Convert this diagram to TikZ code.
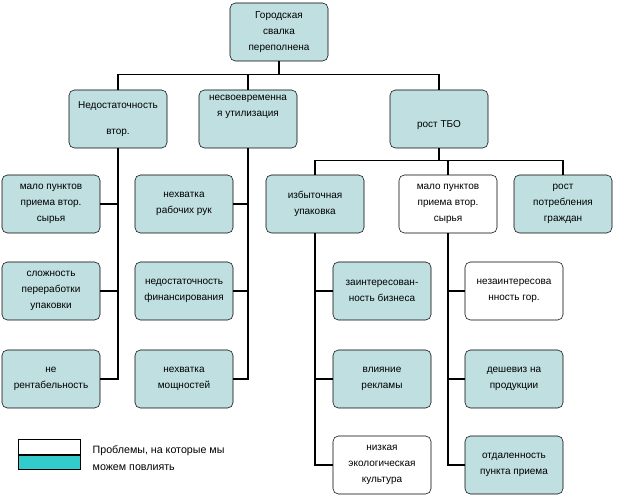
\documentclass[tikz,border=0pt]{standalone}
\usepackage{fontspec}
\setmainfont{Liberation Sans}
\usetikzlibrary{positioning}
\begin{document}
\begin{tikzpicture}[x=0.75pt,y=-0.75pt,
  box/.style={draw, rounded corners=4pt, fill=boxfill, minimum width=73.5pt,
    minimum height=43.5pt, align=center, inner sep=1pt,
    font=\fontsize{7.5}{12}\selectfont},
  wbox/.style={box, fill=white},
  link/.style={thick, line cap=rect}]
  \definecolor{boxfill}{HTML}{BFDFE0}
  \definecolor{legcyan}{HTML}{33CCCC}
  \useasboundingbox (0,0) rectangle (617,498);
  \node[box] (R) at (279,32) {Городская\\свалка\\переполнена};
  \node[box] (A) at (118,119) {Недостаточность\\[8pt]втор.};
  \node[box] (B) at (248,119) {несвоевременна\\я утилизация\\[8pt]};
  \node[box] (C) at (439,119) {\\[2pt]рост ТБО};
  \node[box] (A1) at (51,204) {мало пунктов\\приема втор.\\сырья};
  \node[box] (A2) at (51,291) {сложность\\переработки\\упаковки};
  \node[box] (A3) at (51,379) {не\\рентабельность};
  \node[box] (B1) at (184,204) {нехватка\\рабочих рук};
  \node[box] (B2) at (184,291) {недостаточность\\финансирования};
  \node[box] (B3) at (184,379) {нехватка\\мощностей};
  \node[box] (C1) at (315,204) {избыточная\\упаковка};
  \node[wbox] (C2) at (448,204) {мало пунктов\\приема втор.\\сырья};
  \node[box] (C3) at (563,204) {рост\\потребления\\граждан};
  \node[box] (D1) at (382,291) {заинтересован-\\ность бизнеса};
  \node[box] (D2) at (382,379) {влияние\\рекламы};
  \node[wbox] (D3) at (382,465) {низкая\\экологическая\\культура};
  \node[wbox] (E1) at (514,291) {незаинтересова\\нность гор.};
  \node[box] (E2) at (514,379) {дешевиз на\\продукции};
  \node[box] (E3) at (514,465) {отдаленность\\пункта приема};
  % upper tree
  \draw[link] (R.south) -- ++(0,13) coordinate (r1);
  \draw[link] (A.north) |- (r1) -| (C.north);
  \draw[link] (B.north) -- (B.north |- r1);
  \draw[link] (C.south) -- ++(0,12) coordinate (c1);
  \draw[link] (C1.north) |- (c1) -| (C3.north);
  \draw[link] (C2.north) -- (C2.north |- c1);
  % columns
  \draw[link] (A.south) |- (A3.east);
  \draw[link] (A1.east) -- (A1.east -| A.south);
  \draw[link] (A2.east) -- (A2.east -| A.south);
  \draw[link] (B.south) |- (B3.east);
  \draw[link] (B1.east) -- (B1.east -| B.south);
  \draw[link] (B2.east) -- (B2.east -| B.south);
  \draw[link] (C1.south) |- (D3.west);
  \draw[link] (D1.west) -- (D1.west -| C1.south);
  \draw[link] (D2.west) -- (D2.west -| C1.south);
  \draw[link] (C2.south) |- (E3.west);
  \draw[link] (E1.west) -- (E1.west -| C2.south);
  \draw[link] (E2.west) -- (E2.west -| C2.south);
  % legend
  \node[draw, fill=white, minimum width=46.5pt, minimum height=11pt, inner sep=0pt] (L1) at (49,447) {};
  \node[draw, fill=legcyan, minimum width=46.5pt, minimum height=11pt, inner sep=0pt, below=0pt of L1] (L2) {};
  \node[anchor=west, align=left, font=\fontsize{8}{13}\selectfont] (LT) at (88,458) {Проблемы, на которые мы\\можем повлиять};
\end{tikzpicture}
\end{document}
